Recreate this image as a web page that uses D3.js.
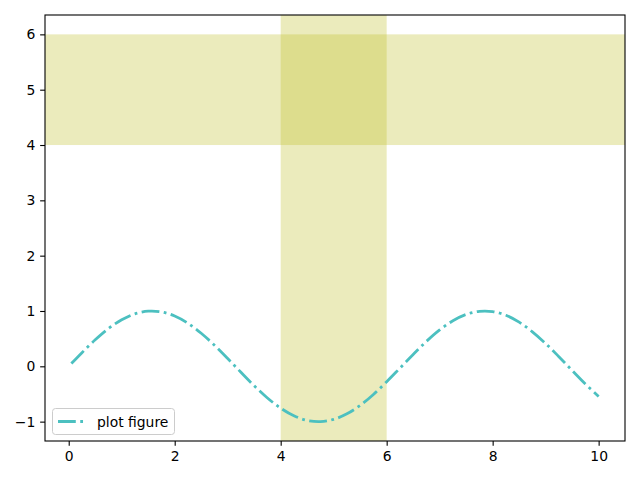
<!DOCTYPE html>
<html><head><meta charset="utf-8">
<script src="https://cdn.jsdelivr.net/npm/d3@7"></script>
<style>body{margin:0;background:#fff}text{font-family:"DejaVu Sans",sans-serif}</style>
</head><body>
<script>
const xs = [0.05,0.25,0.5,0.75,1.0,1.25,1.5,1.75,2.0,2.25,2.5,2.75,3.0,3.25,3.5,3.75,4.0,4.25,4.5,4.75,5.0,5.25,5.5,5.75,6.0,6.25,6.5,6.75,7.0,7.25,7.5,7.75,8.0,8.25,8.5,8.75,9.0,9.25,9.5,9.75,10.0];
const ys = [0.05,0.247,0.479,0.682,0.841,0.949,0.997,0.984,0.909,0.778,0.598,0.382,0.141,-0.108,-0.351,-0.572,-0.757,-0.895,-0.978,-0.999,-0.959,-0.859,-0.706,-0.508,-0.279,-0.033,0.215,0.450,0.657,0.823,0.938,0.994,0.989,0.923,0.798,0.624,0.412,0.174,-0.075,-0.319,-0.544];
const vSpan = [4, 6];
const hSpan = [4, 6];
const xTicks = [0,2,4,6,8,10];
const yTicks = [-1,0,1,2,3,4,5,6];
const seriesName = "plot figure";

const W=640,H=480, L=45, T=15, R=625, B=441;
const svg = d3.select("body").append("svg").attr("width",W).attr("height",H);
const x = d3.scaleLinear().domain([-0.4475,10.4975]).range([L,R]);
const y = d3.scaleLinear().domain([-1.35,6.35]).range([B,T]);
const spanCol = "#bcbd22";

svg.append("rect").attr("x",L).attr("y",y(hSpan[1])).attr("width",R-L).attr("height",y(hSpan[0])-y(hSpan[1]))
  .attr("fill",spanCol).attr("fill-opacity",0.3);
svg.append("rect").attr("x",x(vSpan[0])).attr("y",T).attr("width",x(vSpan[1])-x(vSpan[0])).attr("height",B-T)
  .attr("fill",spanCol).attr("fill-opacity",0.3);

const pts = xs.map((v,i)=>[v,ys[i]]);
const line = d3.line().x(d=>x(d[0])).y(d=>y(d[1])).curve(d3.curveCatmullRom);
const lw = 2.78;
svg.append("path").attr("d",line(pts)).attr("fill","none").attr("stroke","#4cc0c0")
  .attr("stroke-width",lw).attr("stroke-dasharray",[6.4*lw,1.6*lw,1*lw,1.6*lw].join(","));

const fmt = d => String(d).replace("-","\u2212");
const xa = svg.append("g").attr("transform",`translate(0,${B})`).call(d3.axisBottom(x).tickValues(xTicks).tickFormat(fmt).tickSizeOuter(0).tickSize(4.86).tickPadding(4.9));
const ya = svg.append("g").attr("transform",`translate(${L},0)`).call(d3.axisLeft(y).tickValues(yTicks).tickFormat(fmt).tickSizeOuter(0).tickSize(4.86).tickPadding(4.9));
[xa,ya].forEach(a=>{a.select(".domain").remove();a.selectAll("text").attr("font-size","13.9px").attr("fill","#000").attr("font-family","DejaVu Sans");a.selectAll("line").attr("stroke","#000").attr("stroke-width",1.1);});

svg.append("rect").attr("x",L).attr("y",T).attr("width",R-L).attr("height",B-T).attr("fill","none").attr("stroke","#000").attr("stroke-width",1.1);

const lg = svg.append("g");
lg.append("rect").attr("x",52.5).attr("y",408.5).attr("width",122).attr("height",26).attr("rx",3)
  .attr("fill","#fff").attr("fill-opacity",0.8).attr("stroke","#cccccc").attr("stroke-width",1);
lg.append("line").attr("x1",58).attr("x2",86).attr("y1",421.5).attr("y2",421.5).attr("stroke","#4cc0c0")
  .attr("stroke-width",lw).attr("stroke-dasharray",[6.4*lw,1.6*lw,1*lw,1.6*lw].join(","));
lg.append("text").attr("x",97).attr("y",426.5).attr("font-size","13.9px").text(seriesName);
</script>
</body></html>
